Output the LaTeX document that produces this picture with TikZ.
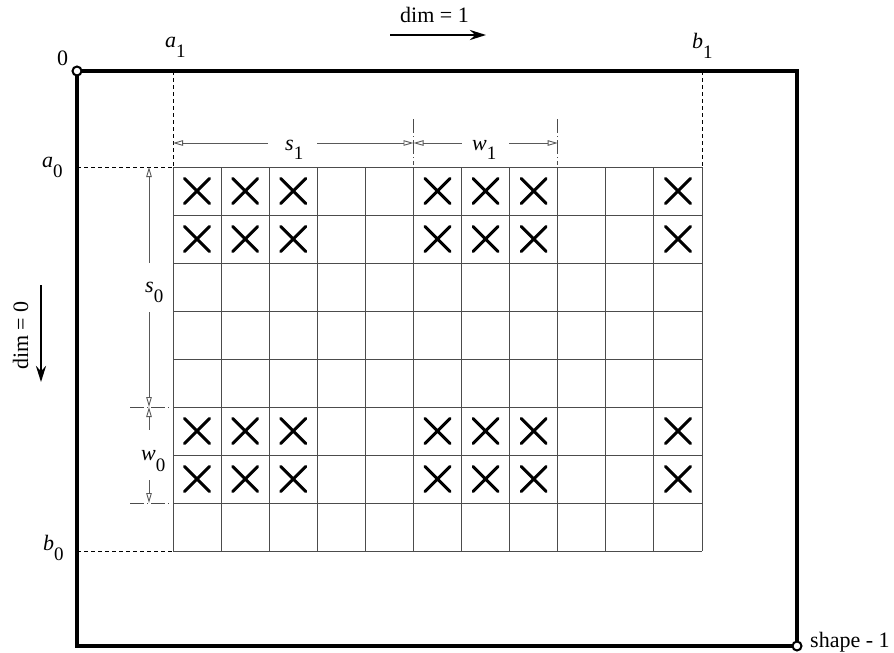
\documentclass[tikz,border=0pt]{standalone}
\usepackage{fontspec}
\setmainfont{Liberation Serif}
\usetikzlibrary{arrows.meta}
\newcommand{\sublab}[3][10pt]{\textit{#2}\raisebox{-#1}{\fontsize{19}{19}\selectfont #3}}
\begin{document}
\begin{tikzpicture}[x=1pt,y=-1pt,
  lab/.style={inner sep=0pt, anchor=base west, font=\fontsize{22}{22}\selectfont},
  frame/.style={line width=3.6pt},
  corner/.style={circle, draw, fill=white, line width=2pt, inner sep=0pt, minimum size=9pt},
  gridline/.style={draw=black!70, line width=0.9pt},
  ext/.style={line width=0.8pt, dash pattern=on 4pt off 3pt},
  tickline/.style={line width=0.7pt, draw=black!70, dash pattern=on 14pt off 3pt on 1pt off 3pt},
  dimtip/.tip={Triangle[open,length=10pt,width=5.5pt,line width=0.9pt]},
  dimline/.style={line width=0.8pt, draw=black!65},
  bigarrow/.style={line width=2.6pt, -{Stealth[length=16pt,width=10pt]}},
  xmark/.style={line width=3pt, line cap=round}
  ]
\useasboundingbox (0,0) rectangle (894,653);

% outer frame
\coordinate (O) at (77,71);
\coordinate (E) at (797,646);
\draw[frame] (O) rectangle (E);

% extension lines
\coordinate (a1top) at (173,71);
\coordinate (a1bot) at (173,167);
\coordinate (b1top) at (702,71);
\coordinate (b1bot) at (702,167);
\coordinate (a0l) at (77,167);
\coordinate (b0l) at (77,551);
\coordinate (b0r) at (173,551);
\draw[ext] (a1top) -- (a1bot);
\draw[ext] (b1top) -- (b1bot);
\draw[ext] (a0l) -- (a1bot);
\draw[ext] (b0l) -- (b0r);

% grid
\foreach \i in {0,...,11}
  \draw[gridline] ({173+\i*48.0909},167) -- ++(0,384);
\foreach \j in {0,...,8}
  \draw[gridline] (173,{167+\j*48}) -- ++(529,0);

% crosses
\foreach \r in {0,1,5,6}
  \foreach \c in {0,1,2,5,6,7,10}
    \draw[xmark] ({173+(\c+0.5)*48.0909-12.5},{167+(\r+0.5)*48-12.5}) -- ++(25,25)
                 ({173+(\c+0.5)*48.0909-12.5},{167+(\r+0.5)*48+12.5}) -- ++(25,-25);

% horizontal dimension
\coordinate (hA) at (173,143);
\coordinate (hM) at (413.5,143);
\coordinate (hB) at (557.7,143);
\coordinate (hs1a) at (268,143);
\coordinate (hs1b) at (317,143);
\coordinate (hw1a) at (462,143);
\coordinate (hw1b) at (509,143);
\draw[tickline] (413.5,119) -- (413.5,165);
\draw[tickline] (557.7,119) -- (557.7,165);
\draw[dimline, dimtip-] (hA) -- (hs1a);
\draw[dimline, -dimtip] (hs1b) -- (hM);
\draw[dimline, dimtip-] (hM) -- (hw1a);
\draw[dimline, -dimtip] (hw1b) -- (hB);
\node[lab] (s1) at (285,150) {\sublab[9pt]{s}{1}};
\node[lab] (w1) at (472,150) {\sublab[9pt]{w}{1}};

% vertical dimension
\coordinate (vA) at (149,167);
\coordinate (vM) at (149,407);
\coordinate (vB) at (149,503);
\coordinate (vs0a) at (149,263);
\coordinate (vs0b) at (149,312);
\coordinate (vw0a) at (149,430);
\coordinate (vw0b) at (149,480);
\draw[tickline] (130,407) -- (172,407);
\draw[tickline] (130,503) -- (172,503);
\draw[dimline, dimtip-] (vA) -- (vs0a);
\draw[dimline, -dimtip] (vs0b) -- (vM);
\draw[dimline, dimtip-] (vM) -- (vw0a);
\draw[dimline, -dimtip] (vw0b) -- (vB);
\node[lab] (s0) at (145,292) {\sublab{s}{0}};
\node[lab] (w0) at (141,460) {\sublab[11pt]{w}{0}};

% corner markers
\node[corner] (c0) at (O) {};
\node[corner] (c1) at (E) {};

% labels
\node[lab] (zero) at (57,65) {0};
\node[lab] (a1) at (165,47) {\sublab{a}{1}};
\node[lab] (b1) at (692,48) {\sublab{b}{1}};
\node[lab] (a0) at (42,167) {\sublab{a}{0}};
\node[lab] (b0) at (43,550) {\sublab{b}{0}};
\node[lab] (shape) at (810,647) {shape - 1};

% dim arrows
\node[lab] (dim1) at (400,23) {dim = 1};
\coordinate (d1s) at (390,35);
\coordinate (d1e) at (486,35);
\draw[bigarrow] (d1s) -- (d1e);
\node[lab, rotate=90] (dim0) at (28,370) {dim = 0};
\coordinate (d0s) at (41,285);
\coordinate (d0e) at (41,382);
\draw[bigarrow] (d0s) -- (d0e);
\end{tikzpicture}
\end{document}
